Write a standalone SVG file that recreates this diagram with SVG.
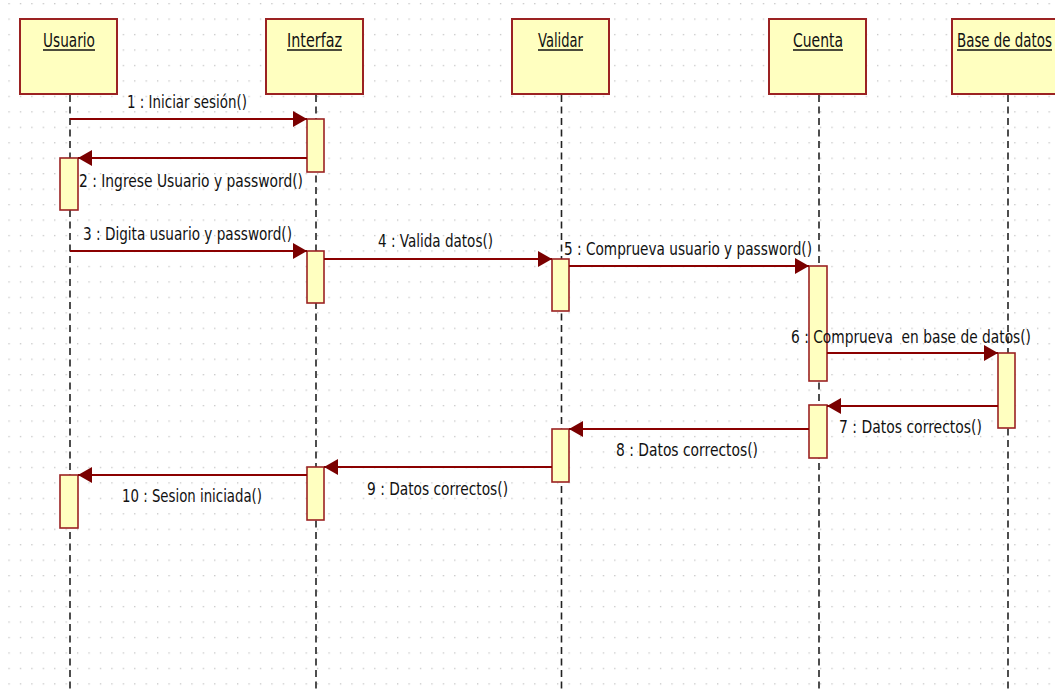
<svg xmlns="http://www.w3.org/2000/svg" width="1055" height="691" viewBox="0 0 1055 691">
<defs>
<pattern id="dots" patternUnits="userSpaceOnUse" x="8.4" y="3" width="11.43" height="15.46">
<rect x="0" y="0" width="1.3" height="1.3" fill="#c4c4c4"/>
</pattern>
<marker id="ah" markerUnits="userSpaceOnUse" markerWidth="14" markerHeight="16" refX="14" refY="8" orient="auto">
<path d="M0,0 L14,8 L0,16 z" fill="#7a0000"/>
</marker>
<style>
.obj{fill:#ffffc0;stroke:#9b2222;stroke-width:2}
.act{fill:#ffffc0;stroke:#9b2222;stroke-width:1.6}
.life{stroke:#222;stroke-width:1.6;stroke-dasharray:7 4.5;fill:none}
.msg{stroke:#8b0000;stroke-width:2;fill:none;marker-end:url(#ah)}
.title{font-family:"DejaVu Sans","Liberation Sans",sans-serif;font-size:19px;fill:#111}
.ul{stroke:#111;stroke-width:1.6}
.lbl{font-family:"DejaVu Sans","Liberation Sans",sans-serif;font-size:17px;fill:#111}
</style>
</defs>
<rect width="1055" height="691" fill="#fff"/>
<rect width="1055" height="691" fill="url(#dots)"/>

<g id="lifelines">
<line class="life" x1="70" y1="95" x2="70" y2="691"/>
<line class="life" x1="316" y1="95" x2="316" y2="691"/>
<line class="life" x1="561.5" y1="95" x2="561.5" y2="691"/>
<line class="life" x1="819" y1="95" x2="819" y2="691"/>
<line class="life" x1="1008" y1="95" x2="1008" y2="691"/>
</g>

<g id="usuario">
<rect class="obj" x="20" y="19" width="97" height="75"/>
<text class="title" x="43" y="47" textLength="52" lengthAdjust="spacingAndGlyphs">Usuario</text>
<line class="ul" x1="43" y1="50" x2="95" y2="50"/>
<rect class="act" x="60" y="158" width="18" height="52"/>
<rect class="act" x="60" y="475" width="18" height="53"/>
</g>

<g id="interfaz">
<rect class="obj" x="266" y="19" width="97" height="75"/>
<text class="title" x="287" y="47" textLength="55" lengthAdjust="spacingAndGlyphs">Interfaz</text>
<line class="ul" x1="287" y1="50" x2="342" y2="50"/>
<rect class="act" x="307" y="119" width="17" height="53"/>
<rect class="act" x="307" y="251" width="17" height="52"/>
<rect class="act" x="307" y="467" width="17" height="53"/>
</g>

<g id="validar">
<rect class="obj" x="512" y="19" width="97" height="75"/>
<text class="title" x="538" y="47" textLength="45" lengthAdjust="spacingAndGlyphs">Validar</text>
<line class="ul" x1="538" y1="50" x2="583" y2="50"/>
<rect class="act" x="552" y="259" width="17" height="52"/>
<rect class="act" x="552" y="429" width="17" height="53"/>
</g>

<g id="cuenta">
<rect class="obj" x="769" y="19" width="97" height="75"/>
<text class="title" x="793" y="47" textLength="50" lengthAdjust="spacingAndGlyphs">Cuenta</text>
<line class="ul" x1="793" y1="50" x2="843" y2="50"/>
<rect class="act" x="809" y="266" width="18" height="115"/>
<rect class="act" x="809" y="405" width="18" height="53"/>
</g>

<g id="base-de-datos">
<rect class="obj" x="952" y="19" width="110" height="75"/>
<text class="title" x="957" y="47" textLength="95" lengthAdjust="spacingAndGlyphs">Base de datos</text>
<line class="ul" x1="957" y1="50" x2="1052" y2="50"/>
<rect class="act" x="998" y="353" width="17" height="75"/>
</g>

<g id="connectors">
<line class="msg" x1="70" y1="119" x2="307" y2="119"/>
<line class="msg" x1="307" y1="158" x2="78" y2="158"/>
<line class="msg" x1="70" y1="251" x2="307" y2="251"/>
<line class="msg" x1="324" y1="259" x2="552" y2="259"/>
<line class="msg" x1="569" y1="266" x2="809" y2="266"/>
<line class="msg" x1="827" y1="353" x2="998" y2="353"/>
<line class="msg" x1="998" y1="406" x2="827" y2="406"/>
<line class="msg" x1="809" y1="429" x2="569" y2="429"/>
<line class="msg" x1="552" y1="467" x2="324" y2="467"/>
<line class="msg" x1="307" y1="475" x2="78" y2="475"/>
</g>

<g id="labels">
<text class="lbl" x="127" y="108" textLength="120" lengthAdjust="spacingAndGlyphs">1 : Iniciar sesión()</text>
<text class="lbl" x="79" y="187" textLength="224" lengthAdjust="spacingAndGlyphs">2 : Ingrese Usuario y password()</text>
<text class="lbl" x="83" y="240" textLength="209" lengthAdjust="spacingAndGlyphs">3 : Digita usuario y password()</text>
<text class="lbl" x="378" y="247" textLength="115" lengthAdjust="spacingAndGlyphs">4 : Valida datos()</text>
<text class="lbl" x="564" y="255" textLength="248" lengthAdjust="spacingAndGlyphs">5 : Comprueva usuario y password()</text>
<text class="lbl" x="791" y="343" textLength="240" lengthAdjust="spacingAndGlyphs" xml:space="preserve">6 : Comprueva  en base de datos()</text>
<text class="lbl" x="839" y="433" textLength="143" lengthAdjust="spacingAndGlyphs">7 : Datos correctos()</text>
<text class="lbl" x="616" y="456" textLength="142" lengthAdjust="spacingAndGlyphs">8 : Datos correctos()</text>
<text class="lbl" x="367" y="495" textLength="141" lengthAdjust="spacingAndGlyphs">9 : Datos correctos()</text>
<text class="lbl" x="122" y="502" textLength="140" lengthAdjust="spacingAndGlyphs">10 : Sesion iniciada()</text>
</g>
</svg>
